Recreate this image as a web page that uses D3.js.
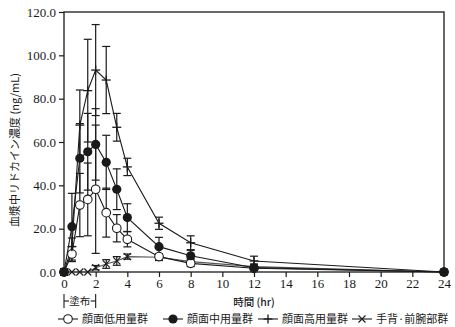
<!DOCTYPE html>
<html><head><meta charset="utf-8">
<script src="https://cdn.jsdelivr.net/npm/d3@7"></script>
<style>body{margin:0;background:#fff}svg{display:block}</style>
</head><body><svg id="c" width="455" height="327"></svg>
<script>
const times = [0, 0.5, 1, 1.5, 2, 2.667, 3.333, 4, 6, 8, 12, 24];
const seriesNames = ["顔面低用量群", "顔面中用量群", "顔面高用量群", "手背·前腕部群"];
const lowMean  = [0, 8.3, 30.9, 33.5, 38.2, 27.4, 20.2, 15.1, 7.1, 4.0, 1.7, 0];
const lowSD    = [0, 3.5, 14.6, 16.8, 29.6, 11.3, 6.3, 3.5, 1.2, 1.5, 0.8, 0];
const midMean  = [0, 20.9, 52.5, 55.5, 58.9, 50.6, 38.2, 25.1, 11.7, 7.5, 2.0, 0];
const midSD    = [0, 15.4, 16.0, 17.7, 16.5, 12.5, 9.4, 6.4, 4.3, 2.5, 1.2, 0];
const highMean = [0, 11.7, 67.8, 83.7, 93.2, 88.6, 66.8, 48.5, 22.5, 13.5, 5.1, 0];
const highSD   = [0, 4.0, 16.2, 23.7, 21.0, 15.5, 6.4, 4.0, 2.8, 3.2, 2.2, 0];
const handMean = [0, 0, 0, 0, 2.0, 3.7, 5.1, 7.1, 6.8, 4.8, 2.5, 0];
const handSD   = [0, 0, 0, 0, 1.0, 2.0, 2.0, 1.2, 1.5, 1.2, 0.8, 0];
const xTicks = [0, 2, 4, 6, 8, 10, 12, 14, 16, 18, 20, 22, 24];
const yTicks = [0, 20, 40, 60, 80, 100, 120];
const xTitle = "時間 (hr)";
const yTitle = "血漿中リドカイン濃度 (ng/mL)";
const applyLabel = "塗布";

const svg = d3.select("#c");
const L = 64, R = 444, T = 12, B = 272;
const x = d3.scaleLinear().domain([0, 24]).range([L, R]);
const y = d3.scaleLinear().domain([0, 120]).range([B, T]);
const serif = "'Liberation Serif','DejaVu Serif',serif";
const jp = "'Noto Sans CJK JP','Noto Sans CJK SC',sans-serif";
const ink = "#1a1a1a";

// axes
const gx = svg.append("g").attr("transform", `translate(0,${B})`)
  .call(d3.axisBottom(x).tickValues(xTicks).tickSize(5).tickPadding(2).tickFormat(d3.format("d")));
const gy = svg.append("g").attr("transform", `translate(${L},0)`)
  .call(d3.axisLeft(y).tickValues(yTicks).tickSize(5).tickPadding(3).tickFormat(d3.format(".1f")));
[gx, gy].forEach(g => {
  g.select(".domain").remove();
  g.selectAll("line").attr("stroke", ink).attr("stroke-width", 1.2);
  g.selectAll("text").attr("font-family", serif).attr("font-size", 13).attr("fill", ink);
});
// frame
svg.append("rect").attr("x", L).attr("y", T).attr("width", R - L).attr("height", B - T)
  .attr("fill", "none").attr("stroke", ink).attr("stroke-width", 1.3);

const series = [
  {name: seriesNames[3], mean: handMean, sd: handSD, mark: "x", color: "#555"},
  {name: seriesNames[0], mean: lowMean, sd: lowSD, mark: "open", color: ink},
  {name: seriesNames[1], mean: midMean, sd: midSD, mark: "filled", color: ink},
  {name: seriesNames[2], mean: highMean, sd: highSD, mark: "plus", color: ink}
];

const cap = 4;
series.forEach(s => {
  const g = svg.append("g");
  times.forEach((t, i) => {
    if (s.sd[i] <= 0) return;
    const cx = x(t), y1 = y(s.mean[i] + s.sd[i]), y2 = y(s.mean[i] - s.sd[i]);
    g.append("line").attr("x1", cx).attr("x2", cx).attr("y1", y1).attr("y2", y2)
      .attr("stroke", ink).attr("stroke-width", 1.2);
    [y1, y2].forEach(yy => g.append("line").attr("x1", cx - cap).attr("x2", cx + cap)
      .attr("y1", yy).attr("y2", yy).attr("stroke", ink).attr("stroke-width", 1.2));
  });
  const line = d3.line().x((d, i) => x(times[i])).y(d => y(d));
  g.append("path").attr("d", line(s.mean)).attr("fill", "none")
    .attr("stroke", s.color).attr("stroke-width", 1.1);
});

function drawMarker(g, kind, cx, cy) {
  if (kind === "open") {
    g.append("circle").attr("cx", cx).attr("cy", cy).attr("r", 4.3)
      .attr("fill", "#fff").attr("stroke", ink).attr("stroke-width", 1.1);
  } else if (kind === "filled") {
    g.append("circle").attr("cx", cx).attr("cy", cy).attr("r", 4.6).attr("fill", ink);
  } else if (kind === "plus") {
    g.append("line").attr("x1", cx - 4.5).attr("x2", cx + 4.5).attr("y1", cy).attr("y2", cy)
      .attr("stroke", ink).attr("stroke-width", 1.3);
    g.append("line").attr("x1", cx).attr("x2", cx).attr("y1", cy - 4.5).attr("y2", cy + 4.5)
      .attr("stroke", ink).attr("stroke-width", 1.3);
  } else if (kind === "x") {
    g.append("path").attr("d", `M${cx-3.5},${cy-3.5}L${cx+3.5},${cy+3.5}M${cx-3.5},${cy+3.5}L${cx+3.5},${cy-3.5}`)
      .attr("stroke", ink).attr("stroke-width", 1.1);
  }
}
series.forEach(s => {
  const g = svg.append("g");
  times.forEach((t, i) => drawMarker(g, s.mark, x(t), y(s.mean[i])));
});
// origin block
svg.append("rect").attr("x", x(0) - 4).attr("y", y(0) - 4).attr("width", 8).attr("height", 8).attr("fill", ink);

// application bracket
const by = 301;
const bx0 = x(0), bx1 = x(2);
const bg = svg.append("g").attr("stroke", ink).attr("stroke-width", 1.1);
bg.append("line").attr("x1", bx0).attr("x2", bx0).attr("y1", by - 7).attr("y2", by + 7);
bg.append("line").attr("x1", bx1).attr("x2", bx1).attr("y1", by - 7).attr("y2", by + 7);
bg.append("line").attr("x1", bx0).attr("x2", bx0 + 5).attr("y1", by).attr("y2", by);
bg.append("line").attr("x1", bx1 - 5).attr("x2", bx1).attr("y1", by).attr("y2", by);
svg.append("text").attr("x", (bx0 + bx1) / 2).attr("y", by + 4).attr("text-anchor", "middle")
  .attr("font-family", jp).attr("font-size", 10.5).attr("fill", ink).text(applyLabel);

// axis titles
svg.append("text").attr("x", 254).attr("y", 306).attr("text-anchor", "middle")
  .attr("font-family", jp).attr("font-size", 10.5).attr("font-weight", 500).attr("fill", ink).text(xTitle);
svg.append("text").attr("transform", `translate(19,150) rotate(-90)`).attr("text-anchor", "middle")
  .attr("font-family", jp).attr("font-size", 11).attr("fill", ink).text(yTitle);

// legend
const legendItems = [
  {name: seriesNames[0], mark: "open", x: 58},
  {name: seriesNames[1], mark: "filled", x: 163},
  {name: seriesNames[2], mark: "plus", x: 258},
  {name: seriesNames[3], mark: "x", x: 352}
];
const ly = 319;
legendItems.forEach(it => {
  const g = svg.append("g");
  g.append("line").attr("x1", it.x).attr("x2", it.x + 20).attr("y1", ly).attr("y2", ly)
    .attr("stroke", ink).attr("stroke-width", 1.1);
  drawMarker(g, it.mark, it.x + 10, ly);
  g.append("text").attr("x", it.x + 24).attr("y", ly + 4).attr("font-family", jp)
    .attr("font-size", 11).attr("fill", ink).text(it.name);
});
</script></body></html>
